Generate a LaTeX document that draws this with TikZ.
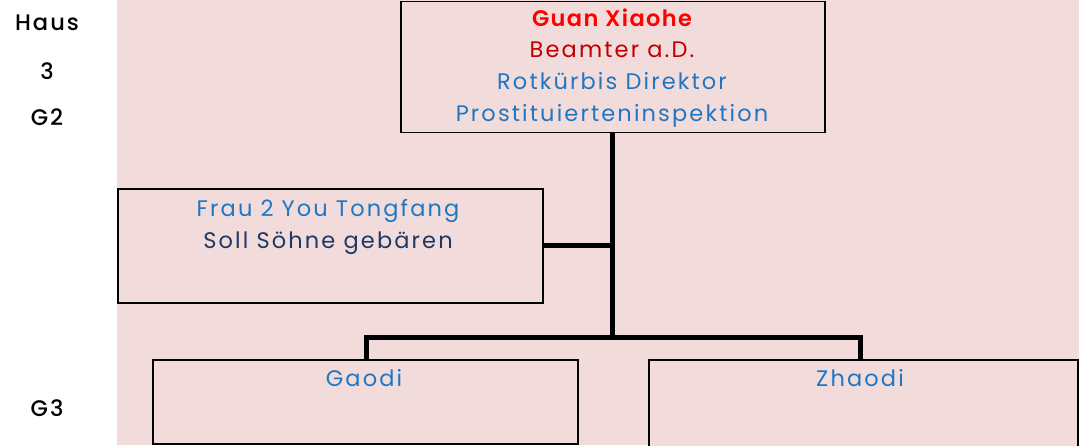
\documentclass[tikz,border=0pt]{standalone}
\usepackage{fontspec}
\setmainfont{Poppins}[LetterSpace=9.5]
\newfontfamily\boldf{Poppins}[LetterSpace=6,UprightFont=* SemiBold]
\newfontfamily\medf{Poppins}[LetterSpace=9,UprightFont=* Medium]
\definecolor{bgpink}{HTML}{F2DCDB}
\definecolor{myred}{HTML}{FF0000}
\definecolor{mydred}{HTML}{C00000}
\definecolor{myblue}{HTML}{1F77C4}
\definecolor{mynavy}{HTML}{1F3864}
\begin{document}
\begin{tikzpicture}[x=1pt,y=-1pt,
  box/.style={draw=black,line width=1.6pt,fill=bgpink,inner sep=0pt},
  txt/.style={anchor=base,inner sep=0pt,font=\fontsize{22.5}{26}\selectfont},
  lbl/.style={anchor=base,inner sep=0pt,font=\fontsize{22.5}{26}\selectfont\medf},
  conn/.style={line width=5pt}]
\useasboundingbox (0,0) rectangle (1079,445);
\fill[bgpink] (117,0) rectangle (1079,445);
% left labels
\node[lbl] (haus) at (47,30) {Haus};
\node[lbl] (drei) at (47,79) {3};
\node[lbl] (gz) at (47,125) {G2};
\node[lbl] (gd) at (47,416) {G3};
% boxes
\node[box,minimum width=424pt,minimum height=131pt,anchor=north west] (top) at (400,0.75) {};
\node[box,minimum width=425pt,minimum height=114pt,anchor=north west] (frau) at (117,188) {};
\node[box,minimum width=425pt,minimum height=84pt,anchor=north west] (gaodi) at (152,359) {};
\node[box,minimum width=429pt,minimum height=100pt,anchor=north west] (zhaodi) at (648,359) {};
% texts
\node[txt,text=myred] (t1) at (612,26) {\boldf Guan Xiaohe};
\node[txt,text=mydred] (t2) at (612,57) {Beamter a.D.};
\node[txt,text=myblue] (t3) at (612,89) {Rotkürbis Direktor};
\node[txt,text=myblue] (t4) at (612,121) {Prostituierteninspektion};
\node[txt,text=myblue] (f1) at (328,216) {Frau 2 You Tongfang};
\node[txt,text=mynavy] (f2) at (328,248) {Soll Söhne gebären};
\node[txt,text=myblue] (g1) at (364,386) {Gaodi};
\node[txt,text=myblue] (z1) at (860,386) {Zhaodi};
% connectors
\coordinate (jf) at (612,245);
\coordinate (jb) at (612,337);
\coordinate (jl) at (366,337);
\coordinate (jr) at (860,337);
\draw[conn] (top.south -| jf) -- (jb);
\draw[conn] (frau.east |- jf) -- (jf);
\draw[conn,line cap=rect] (jl) -- (jr);
\draw[conn] (jl) -- (gaodi.north -| jl);
\draw[conn] (jr) -- (zhaodi.north -| jr);
\end{tikzpicture}
\end{document}
